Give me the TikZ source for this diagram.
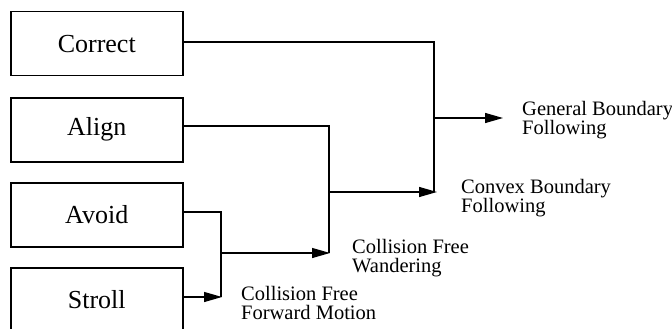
\documentclass[tikz,border=0pt]{standalone}
\usepackage{fontspec}
\setmainfont{Liberation Serif}
\usetikzlibrary{arrows.meta}
\begin{document}
\begin{tikzpicture}[x=1pt,y=-1pt,
  blk/.style={draw,line width=1.5pt,minimum width=172pt,minimum height=64pt,inner sep=0pt,font=\fontsize{26}{30}\selectfont,anchor=north west},
  lbl/.style={anchor=base west,inner sep=0pt,align=left,font=\fontsize{20.5}{19.5}\selectfont},
  wire/.style={line width=1.3pt},
  arr/.style={wire,-{Triangle[length=18pt,width=10pt]}}]
\useasboundingbox (0,0) rectangle (672,329);
\node[blk] (correct) at (10,11) {Correct};
\node[blk] (align) at (10,97) {Align};
\node[blk] (avoid) at (10,182) {Avoid};
\node[blk] (stroll) at (10,267) {Stroll};
\node[lbl] (gbf) at (522,134.5) {General Boundary\\Following};
\node[lbl] (cbf) at (461,212.5) {Convex Boundary\\Following};
\node[lbl] (cfw) at (352,272.5) {Collision Free\\Wandering};
\node[lbl] (cffm) at (241,319.5) {Collision Free\\Forward Motion};
% junction points
\coordinate (c1) at (434,42);
\coordinate (c2) at (434,192);
\coordinate (cj) at (434,118);
\coordinate (gt) at (503,118);
\coordinate (a1) at (329,126);
\coordinate (a2) at (329,253);
\coordinate (aj) at (329,192);
\coordinate (ct) at (437,192);
\coordinate (v1) at (221,212);
\coordinate (v2) at (221,297);
\coordinate (vj) at (221,253);
\coordinate (wt) at (330,253);
\coordinate (st) at (222,297);
\draw[wire] (correct.east |- c1) -- (c1) -- (c2);
\draw[arr] (cj) -- (gt);
\draw[wire] (align.east |- a1) -- (a1) -- (a2);
\draw[arr] (aj) -- (ct);
\draw[wire] (avoid.east |- v1) -- (v1) -- (v2);
\draw[arr] (vj) -- (wt);
\draw[arr] (stroll.east |- st) -- (st);
\end{tikzpicture}
\end{document}
